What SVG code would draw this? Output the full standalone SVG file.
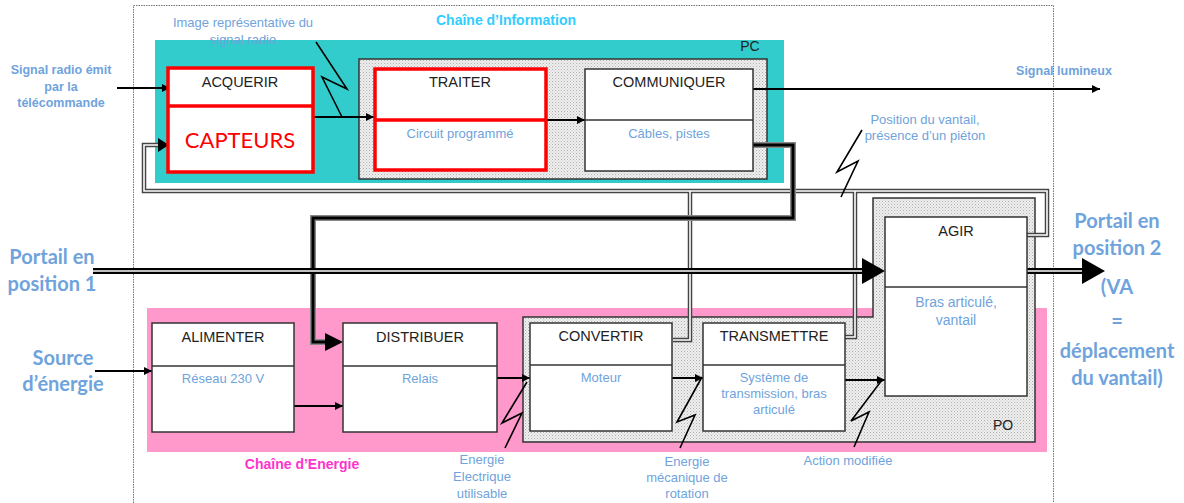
<svg xmlns="http://www.w3.org/2000/svg" width="1184" height="503" viewBox="0 0 1184 503">
<defs>
<pattern id="stip" width="3" height="3" patternUnits="userSpaceOnUse">
<rect width="3" height="3" fill="#eeeeee"/>
<rect width="1" height="1" fill="#b0b0b0"/>
<rect x="1.5" y="1.5" width="1" height="1" fill="#c8c8c8"/>
</pattern>
<marker id="sa" viewBox="0 0 10 10" refX="10" refY="5" markerWidth="8" markerHeight="8" markerUnits="userSpaceOnUse" orient="auto"><path d="M0,0 L10,5 L0,10 z" fill="#000"/></marker>
</defs>
<style>
.frame{fill:none;stroke:#777;stroke-width:1;stroke-dasharray:1.5,1}
.blk{fill:#fff;stroke:#333;stroke-width:1.5}
.red{fill:#fff;stroke:#ff0000;stroke-width:3.5}
.stip{fill:url(#stip);stroke:#333;stroke-width:1.5}
.div{stroke:#333;stroke-width:1.5}
.divr{stroke:#ff0000;stroke-width:3.5}
.t{font-family:"Liberation Sans",Arial,sans-serif;fill:#222;text-anchor:middle}
.tt{font-size:14.5px}
.lb{font-family:"Liberation Sans",Arial,sans-serif;fill:#6fa3dc;text-anchor:middle;font-size:13px}
.lb2{font-size:14px}
.ob{font-family:"Liberation Sans",Arial,sans-serif;fill:#6fa3dc;text-anchor:middle;font-size:12.5px;font-weight:bold}
.big{font-family:Lato,"Open Sans",sans-serif;fill:#6fa3dc;text-anchor:middle;font-size:20px;font-weight:bold}
.ln{fill:none;stroke:#000;stroke-width:2}
.zz{fill:none;stroke:#000;stroke-width:1.6}
.dblo{fill:none;stroke:#444;stroke-width:4.5}
.dbli{fill:none;stroke:#fff;stroke-width:1.6}
</style>
<rect width="1184" height="503" fill="#fff"/>
<rect class="frame" x="133.5" y="5.5" width="920" height="500"/>

<g id="zone-pc">
<rect x="155" y="40" width="629" height="143" fill="#33cccc"/>
<text class="t" x="750" y="51" font-size="14">PC</text>
<rect class="stip" x="359" y="59" width="408" height="120"/>
</g>
<g id="zone-po">
<rect x="147" y="308" width="900" height="144" fill="#ff99cc"/>
<path class="stip" d="M523,317 L873,317 L873,198 L1035,198 L1035,442 L523,442 Z"/>
<text class="t" x="1003" y="430" font-size="14">PO</text>
</g>

<text x="506" y="25" font-family="Liberation Sans,Arial,sans-serif" font-size="14" font-weight="bold" fill="#33ccff" text-anchor="middle">Chaîne d’Information</text>
<text x="302" y="469" font-family="Liberation Sans,Arial,sans-serif" font-size="14" font-weight="bold" fill="#ff33cc" text-anchor="middle">Chaîne d’Energie</text>

<g id="connectors">
<path class="dblo" d="M1027,235 L1047,235 L1047,191 L144,191 L144,145 L160,145"/>
<path class="dblo" d="M690,191 L690,340 L673,340"/>
<path class="dblo" d="M855,191 L855,337 L845,337"/>
<path class="dbli" d="M1027,235 L1047,235 L1047,191 L144,191 L144,145 L160,145"/>
<path class="dbli" d="M690,191 L690,340 L673,340"/>
<path class="dbli" d="M855,191 L855,337 L845,337"/>
<path d="M158,138 L169,145 L158,152 Z" fill="#000"/>
<path d="M753,145 L793,145 L793,218 L313,218 L313,342 L327,342" fill="none" stroke="#888" stroke-width="6"/>
<path d="M753,145 L793,145 L793,218 L313,218 L313,342 L327,342" fill="none" stroke="#000" stroke-width="3"/>
<path d="M325,333 L343,342 L325,351 Z" fill="#000"/>
<path d="M93,271 L864,271" fill="none" stroke="#000" stroke-width="6"/>
<path d="M93,271 L864,271" fill="none" stroke="#fff" stroke-width="1.6"/>
<path d="M862,258 L885,271 L862,284 Z" fill="#000"/>
<path d="M1027,271 L1085,271" fill="none" stroke="#000" stroke-width="6"/>
<path d="M1027,271 L1085,271" fill="none" stroke="#fff" stroke-width="1.6"/>
<path d="M1082,258 L1105,271 L1082,284 Z" fill="#000"/>
<path class="ln" d="M117,88 L170,88" marker-end="url(#sa)"/>
<path class="ln" d="M313,117 L374,117" marker-end="url(#sa)"/>
<path class="ln" d="M546,120 L585,120" marker-end="url(#sa)"/>
<path class="ln" d="M753,89 L1100,89" marker-end="url(#sa)"/>
<path class="ln" d="M95,371 L152,371" marker-end="url(#sa)"/>
<path class="ln" d="M294,406 L343,406" marker-end="url(#sa)"/>
<path class="ln" d="M497,378 L530,378" marker-end="url(#sa)"/>
<path class="ln" d="M672,378 L703,378" marker-end="url(#sa)"/>
<path class="ln" d="M845,380 L885,380" marker-end="url(#sa)"/>
<path class="zz" d="M316,42 L347,89 L322,77 L342,117"/>
<path class="zz" d="M862,130 L837,172 L858,161 L841,197"/>
<path class="zz" d="M527,382 L502,423 L522,413 L505,448"/>
<path class="zz" d="M702,377 L677,422 L695,415 L680,448"/>
<path class="zz" d="M882,380 L851,421 L869,412 L854,447"/>
</g>

<g id="acquerir">
<rect class="red" x="168" y="68" width="145" height="104"/>
<line class="divr" x1="168" y1="106" x2="313" y2="106"/>
<text class="t tt" x="240" y="87">ACQUERIR</text>
<text x="240" y="148" font-family="Lato,'Open Sans',sans-serif" font-size="22" fill="#ff0000" text-anchor="middle">CAPTEURS</text>
</g>
<g id="traiter">
<rect class="red" x="375" y="69" width="171" height="101"/>
<line class="divr" x1="375" y1="120" x2="546" y2="120"/>
<text class="t tt" x="460" y="87">TRAITER</text>
<text class="lb" x="460" y="138">Circuit programmé</text>
</g>
<g id="communiquer">
<rect class="blk" x="585" y="69" width="168" height="102"/>
<line class="div" x1="585" y1="120" x2="753" y2="120"/>
<text class="t tt" x="669" y="87">COMMUNIQUER</text>
<text class="lb" x="669" y="138">Câbles, pistes</text>
</g>
<g id="alimenter">
<rect class="blk" x="152" y="323" width="142" height="109"/>
<line class="div" x1="152" y1="366" x2="294" y2="366"/>
<text class="t tt" x="223" y="342">ALIMENTER</text>
<text class="lb" x="223" y="383">Réseau 230 V</text>
</g>
<g id="distribuer">
<rect class="blk" x="343" y="323" width="154" height="109"/>
<line class="div" x1="343" y1="366" x2="497" y2="366"/>
<text class="t tt" x="420" y="342">DISTRIBUER</text>
<text class="lb" x="420" y="383">Relais</text>
</g>
<g id="convertir">
<rect class="blk" x="530" y="323" width="142" height="108"/>
<line class="div" x1="530" y1="365" x2="672" y2="365"/>
<text class="t tt" x="601" y="341">CONVERTIR</text>
<text class="lb" x="601" y="382">Moteur</text>
</g>
<g id="transmettre">
<rect class="blk" x="703" y="323" width="142" height="108"/>
<line class="div" x1="703" y1="365" x2="845" y2="365"/>
<text class="t tt" x="774" y="341">TRANSMETTRE</text>
<text class="lb" x="774" y="382">Système de</text>
<text class="lb" x="774" y="398">transmission, bras</text>
<text class="lb" x="774" y="414">articulé</text>
</g>
<g id="agir">
<rect class="blk" x="885" y="217" width="142" height="179"/>
<line class="div" x1="885" y1="287" x2="1027" y2="287"/>
<text class="t tt" x="956" y="236">AGIR</text>
<text class="lb lb2" x="956" y="307">Bras articulé,</text>
<text class="lb lb2" x="956" y="325">vantail</text>
</g>

<g id="labels">
<text class="ob" x="61" y="74">Signal radio émit</text>
<text class="ob" x="61" y="91">par la</text>
<text class="ob" x="61" y="107">télécommande</text>
<text class="lb" x="243" y="27">Image représentative du</text>
<text class="lb" x="243" y="44">signal radio</text>
<text class="ob" x="1064" y="75">Signal lumineux</text>
<text class="lb" x="925" y="124">Position du vantail,</text>
<text class="lb" x="925" y="140">présence d’un piéton</text>
<text class="big" x="52" y="264">Portail en</text>
<text class="big" x="52" y="291">position 1</text>
<text class="big" x="63" y="365">Source</text>
<text class="big" x="63" y="391">d’énergie</text>
<text class="big" x="1117" y="228">Portail en</text>
<text class="big" x="1117" y="255">position 2</text>
<text class="big" x="1117" y="294">(VA</text>
<text class="big" x="1117" y="328">=</text>
<text class="big" x="1117" y="358">déplacement</text>
<text class="big" x="1117" y="385">du vantail)</text>
<text class="lb" x="482" y="464">Energie</text>
<text class="lb" x="482" y="481">Electrique</text>
<text class="lb" x="482" y="498">utilisable</text>
<text class="lb" x="687" y="466">Energie</text>
<text class="lb" x="687" y="482">mécanique de</text>
<text class="lb" x="687" y="498">rotation</text>
<text class="lb" x="848" y="465">Action modifiée</text>
</g>
</svg>
